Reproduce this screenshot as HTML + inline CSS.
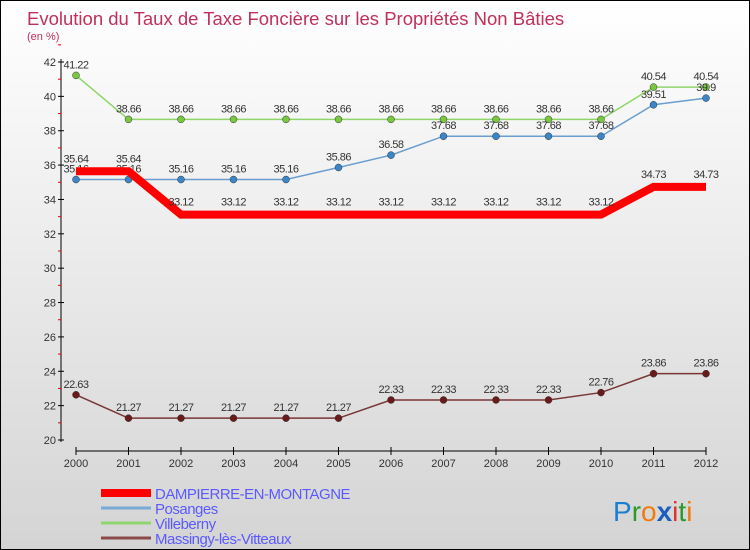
<!DOCTYPE html>
<html><head><meta charset="utf-8"><style>
body{margin:0}
#c{width:748px;height:548px;border:1px solid #000;background:linear-gradient(#fff,#d4d4d4);position:relative;overflow:hidden;font-family:"Liberation Sans",sans-serif}
</style></head><body>
<div id="c">
<svg id="s" width="748" height="548" font-family="Liberation Sans, sans-serif">
<text x="26" y="24" font-size="18.5" fill="#c0305a">Evolution du Taux de Taxe Foncière sur les Propriétés Non Bâties</text>
<text x="26" y="39" font-size="11" fill="#c0305a">(en %)</text>
<g id="g"></g>
<text x="612" y="520" font-size="28"><tspan fill="#1a7fd0">P</tspan><tspan fill="#2a9a2a">r</tspan><tspan fill="#f07a10">o</tspan><tspan fill="#1a5fc0" font-weight="bold">x</tspan><tspan fill="#e03030">i</tspan><tspan fill="#2a9a2a">t</tspan><tspan fill="#f07a10">i</tspan></text>
</svg></div>
<script>
const years=[2000,2001,2002,2003,2004,2005,2006,2007,2008,2009,2010,2011,2012];
const yTicks=[20,22,24,26,28,30,32,34,36,38,40,42];
const dampierre=[35.64,35.64,33.12,33.12,33.12,33.12,33.12,33.12,33.12,33.12,33.12,34.73,34.73];
const posanges=[35.16,35.16,35.16,35.16,35.16,35.86,36.58,37.68,37.68,37.68,37.68,39.51,39.9];
const villeberny=[41.22,38.66,38.66,38.66,38.66,38.66,38.66,38.66,38.66,38.66,38.66,40.54,40.54];
const massingy=[22.63,21.27,21.27,21.27,21.27,21.27,22.33,22.33,22.33,22.33,22.76,23.86,23.86];
const seriesNames=["DAMPIERRE-EN-MONTAGNE","Posanges","Villeberny","Massingy-lès-Vitteaux"];
const NS="http://www.w3.org/2000/svg",g=document.getElementById('g');
const x=i=>75+i*52.5, y=v=>439-(v-20)*(378/22);
function mk(t,a,txt){const e=document.createElementNS(NS,t);for(const k in a)e.setAttribute(k,a[k]);if(txt!=null)e.textContent=txt;g.appendChild(e);return e;}
let e=mk('line',{x1:60,y1:58,x2:60,y2:441,stroke:'#000'});

e=mk('line',{x1:75,y1:450,x2:705,y2:450,stroke:'#000'});

yTicks.forEach(v=>{mk('line',{x1:57,x2:63,y1:y(v),y2:y(v),stroke:'#000'});
 mk('line',{x1:57,x2:60,y1:y(v+1),y2:y(v+1),stroke:'#e00'});
 e=mk('text',{x:55,y:y(v)+4,'font-size':11,fill:'#333','text-anchor':'end'},v);
 });
years.forEach((yr,i)=>{mk('line',{x1:x(i),x2:x(i),y1:446,y2:454,stroke:'#000'});
 e=mk('text',{x:x(i),y:466,'font-size':11,fill:'#333','text-anchor':'middle'},yr);
 });
function series(data,color,w,dot,name){
 e=mk('polyline',{points:data.map((v,i)=>x(i)+','+y(v)).join(' '),fill:'none',stroke:color,'stroke-width':w});
 
 data.forEach((v,i)=>{if(dot){e=mk('circle',{cx:x(i),cy:y(v),r:3.5,fill:dot,stroke:'#333','stroke-width':0.5});
  }
  e=mk('text',{x:x(i),y:y(v)-(w>5?9:7),'font-size':11,fill:'#333','text-anchor':'middle','letter-spacing':'-0.5'},String(v));
  });
}
series(massingy,'#7a3535',1.5,'#6a1a1a','massingy');
series(villeberny,'#8ed66a',1.5,'#7ac840','villeberny');
series(posanges,'#6a9ed0',1.5,'#3a86c8','posanges');
series(dampierre,'#ff0000',8,null,'dampierre');
const lc=['#ff0000','#7aaad6','#90d670','#8a4a4a'],lw=[8,3,3,3];
seriesNames.forEach((n,i)=>{const yy=492+i*15;
 e=mk('line',{x1:100,x2:150,y1:yy,y2:yy,stroke:lc[i],'stroke-width':lw[i]});
 
 e=mk('text',{x:154,y:yy+6,'font-size':15,fill:'#5a5aff','letter-spacing':'-0.5'},n);
 });
</script>
</body></html>
